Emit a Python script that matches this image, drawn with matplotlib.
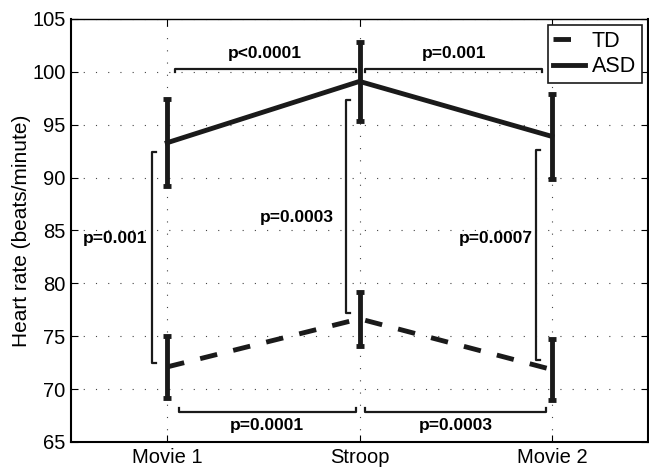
import numpy as np
import matplotlib.pyplot as plt

conditions = ["Movie 1", "Stroop", "Movie 2"]
asd_mean = [93.3, 99.1, 93.9]
asd_err = [4.1, 3.7, 4.0]
td_mean = [72.1, 76.65, 71.85]
td_err = [2.9, 2.55, 2.9]

# horizontal brackets: (x0, x1, y, tick direction, label)
h_brackets = [(1.04, 1.98, 100.3, -0.35, "p<0.0001"),
              (2.03, 2.95, 100.3, -0.35, "p=0.001"),
              (1.06, 1.98, 67.85, 0.35, "p=0.0001"),
              (2.03, 2.97, 67.85, 0.35, "p=0.0003")]
# vertical brackets: (x, y0, y1, label, label x, label y)
v_brackets = [(0.92, 72.5, 92.45, "p=0.001", 0.728, 84.2),
              (1.93, 77.2, 97.3, "p=0.0003", 1.676, 86.2),
              (2.92, 72.75, 92.6, "p=0.0007", 2.707, 84.2)]

plt.rcParams['font.family'] = ['Liberation Sans', 'DejaVu Sans']
bold = dict(fontweight='bold', fontsize=12.5)
ink = '#1a1a1a'

fig = plt.figure(figsize=(6.49, 4.69), dpi=100)
ax = fig.add_axes([71 / 649, 1 - 442 / 469, 577 / 649, 423 / 469])

x = np.arange(1, len(conditions) + 1)
ax.plot(x, td_mean, color=ink, lw=3.5, ls=(0, (3.6, 3.4)), label='TD', zorder=3)
ax.plot(x, asd_mean, color=ink, lw=3.5, label='ASD', zorder=3)
ax.errorbar(x, td_mean, yerr=td_err, fmt='none', ecolor=ink,
            elinewidth=3.5, capsize=3, capthick=3.5, zorder=3)
ax.errorbar(x, asd_mean, yerr=asd_err, fmt='none', ecolor=ink,
            elinewidth=3.5, capsize=3, capthick=3.5, zorder=3)

for x0, x1, y, d, lab in h_brackets:
    ax.plot([x0, x0, x1, x1], [y + d, y, y, y + d], color=ink, lw=1.6)
    ty = y + 1.4 if d < 0 else y - 1.3
    ax.text((x0 + x1) / 2, ty, lab, ha='center', va='center', **bold)

for xv, y0, y1, lab, tx, ty in v_brackets:
    ax.plot([xv + 0.02, xv, xv, xv + 0.02], [y0, y0, y1, y1], color=ink, lw=1.6)
    ax.text(tx, ty, lab, ha='center', va='center', **bold)

ax.set_xlim(0.5, 3.5)
ax.set_ylim(65, 105)
ax.set_xticks(x)
ax.set_xticklabels(conditions)
ax.set_yticks(np.arange(65, 106, 5))
ax.tick_params(direction='in', labelsize=14.5, length=5, top=True, right=True,
               pad=4)
ax.grid(True, ls=(0, (1, 10)), color='#444444', lw=0.8)
ax.set_ylabel('Heart rate (beats/minute)', fontsize=15, labelpad=1)
for s in ax.spines.values():
    s.set_linewidth(1.5)
ax.spines['top'].set_linewidth(1.0)

leg = ax.legend(loc='upper right', fontsize=15.5, handlelength=1.5, handletextpad=0.3,
                borderpad=0.25, labelspacing=0.2, fancybox=False, edgecolor=ink,
                framealpha=1, borderaxespad=0.3)
leg.get_frame().set_linewidth(1.2)

fig.savefig('out.png', dpi=100)
